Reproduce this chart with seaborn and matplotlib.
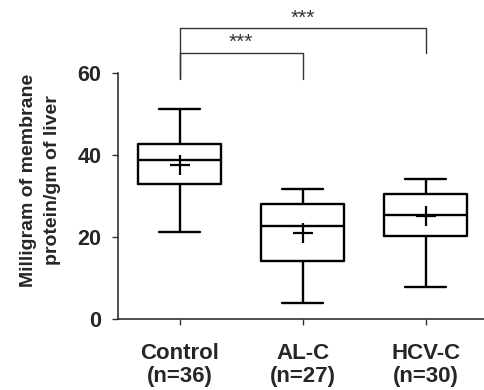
import matplotlib
matplotlib.use("Agg")
import matplotlib.pyplot as plt
import seaborn as sns
import pandas as pd

sns.set_style("ticks")
plt.rcParams['font.family'] = ['Liberation Sans', 'DejaVu Sans']
plt.rcParams['font.weight'] = 'bold'

categories = ["Control", "AL-C", "HCV-C"]
tick_labels = ["Control\n(n=36)", "AL-C\n(n=27)", "HCV-C\n(n=30)"]
# five-number summaries: whisker low, Q1, median, Q3, whisker high
control_vals = [21.2, 32.9, 38.9, 42.8, 51.3]
alc_vals = [3.9, 14.3, 22.8, 28.0, 31.7]
hcvc_vals = [7.8, 20.3, 25.4, 30.6, 34.2]
means = [37.6, 21.1, 25.2]
sig_labels = ["***", "***"]

df = pd.DataFrame({
    "group": [categories[0]] * 5 + [categories[1]] * 5 + [categories[2]] * 5,
    "value": control_vals + alc_vals + hcvc_vals,
})
mdf = pd.DataFrame({"group": categories, "mean": means})

fig = plt.figure(figsize=(4.85, 3.9), dpi=100)
ax = fig.add_axes([0.2433, 0.1813, 0.761, 0.6308])

sns.boxplot(data=df, x="group", y="value", order=categories, whis=(0, 100),
            width=0.675, fill=False, color="black", linewidth=1.7,
            showfliers=False, ax=ax, capwidths=0.33)
sns.scatterplot(data=mdf, x="group", y="mean", marker="+", s=190,
                color="black", linewidth=1.6, ax=ax, zorder=5, legend=False)

ax.set_ylim(0, 60)
ax.set_xlim(-0.5, 2.5)
ax.set_yticks([0, 20, 40, 60])
ax.set_yticklabels(["0", "20", "40", "60"], fontsize=15.5, fontweight="bold")
ax.set_xticks(range(3))
ax.set_xticklabels(tick_labels, fontsize=16, fontweight="bold", linespacing=1.1)
ax.tick_params(axis="both", length=4, width=1, color="#333333")
ax.tick_params(axis="x", pad=13)
ax.tick_params(axis="y", pad=8)
ax.set_xlabel("")
ax.set_ylabel("Milligram of membrane\nprotein/gm of liver", fontsize=14,
              fontweight="bold", linespacing=1.5)
ax.yaxis.set_label_coords(-0.155, 0.564)
for s in ["top", "right"]:
    ax.spines[s].set_visible(False)
for s in ["left", "bottom"]:
    ax.spines[s].set_linewidth(1.1)
    ax.spines[s].set_color("#222222")

bkw = dict(color="#333333", lw=1.0, clip_on=False)
ax.plot([0, 0, 2, 2], [58.6, 71.0, 71.0, 65.0], **bkw)
ax.plot([0, 0, 1, 1], [58.6, 65.0, 65.0, 58.6], **bkw)
ax.text(1, 73.5, sig_labels[0], ha="center", va="center", fontsize=15,
        fontweight="normal", color="#333333", clip_on=False)
ax.text(0.5, 67.5, sig_labels[1], ha="center", va="center", fontsize=15,
        fontweight="normal", color="#333333", clip_on=False)

fig.savefig("out.png", dpi=100)
